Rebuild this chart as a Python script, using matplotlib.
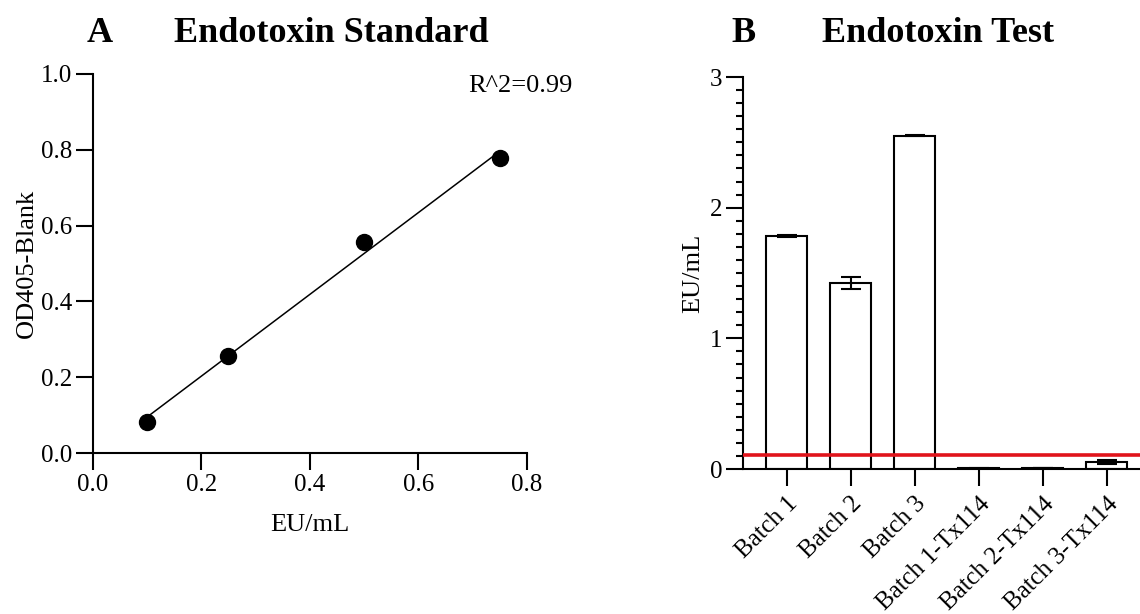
import numpy as np
import matplotlib
matplotlib.use('Agg')
import matplotlib.pyplot as plt
from matplotlib.ticker import MultipleLocator, FormatStrFormatter


# standard curve: endotoxin concentration vs blank-corrected OD405
STD_CONC = [0.10, 0.25, 0.50, 0.75]
STD_OD = [0.083, 0.257, 0.556, 0.778]
R2_TEXT = 'R^2=0.99'

# sample test results
SAMPLES = ['Batch 1', 'Batch 2', 'Batch 3',
           'Batch 1-Tx114', 'Batch 2-Tx114', 'Batch 3-Tx114']
SAMPLE_EU = [1.785, 1.425, 2.55, 0.005, 0.006, 0.052]
SAMPLE_ERR = [0.008, 0.047, 0.003, 0.002, 0.002, 0.015]
LIMIT_EU = 0.107

plt.rcParams['font.family'] = ['Liberation Serif', 'DejaVu Serif']
plt.rcParams['axes.linewidth'] = 1.5

W, H = 1140, 614
fig = plt.figure(figsize=(W / 100, H / 100), dpi=100)


def px_axes(left, top, right, bottom):
    return fig.add_axes([left / W, 1 - bottom / H,
                         (right - left) / W, (bottom - top) / H])


# ---- A: standard curve
axA = px_axes(92.7, 74, 527, 453)
axA.plot(STD_CONC, STD_OD, 'o', color='black', markersize=11.5, zorder=3)
slope, icpt = np.polyfit(STD_CONC, STD_OD, 1)
fit_x = np.array([min(STD_CONC), max(STD_CONC)])
axA.plot(fit_x, slope * fit_x + icpt, color='black', lw=1.1)
axA.set_xlim(0, 0.8)
axA.set_ylim(0, 1.0)
axA.set_xticks(np.arange(0, 0.81, 0.2))
axA.set_yticks(np.arange(0, 1.01, 0.2))
axA.xaxis.set_major_formatter(FormatStrFormatter('%.1f'))
axA.yaxis.set_major_formatter(FormatStrFormatter('%.1f'))
axA.set_xlabel('EU/mL', fontsize=19)
axA.set_ylabel('OD405-Blank', fontsize=19)
axA.yaxis.set_label_coords(-0.126, 0.5)
axA.xaxis.set_label_coords(0.5, -0.162)
axA.text(573, H - 86, R2_TEXT, transform=None, fontsize=19,
         ha='right', va='center')

# ---- B: sample bars
axB = px_axes(743, 77, 1140, 469)
xpos = np.arange(len(SAMPLES))
axB.bar(xpos, SAMPLE_EU, width=0.64, color='white', edgecolor='black',
        linewidth=1.5, zorder=2)
axB.errorbar(xpos, SAMPLE_EU, yerr=SAMPLE_ERR, fmt='none', ecolor='black',
             elinewidth=1.5, capsize=7.5, capthick=1.5, zorder=3)
axB.axhline(LIMIT_EU, color='#e0141b', lw=2.6, zorder=4)
axB.set_xlim(-0.68, 5.52)
axB.set_ylim(0, 3)
axB.set_yticks([0, 1, 2, 3])
axB.yaxis.set_minor_locator(MultipleLocator(0.1))
axB.set_xticks(xpos)
axB.set_xticklabels(SAMPLES, rotation=45, ha='right', va='top',
                    rotation_mode='anchor')
axB.set_ylabel('EU/mL', fontsize=19)
axB.yaxis.set_label_coords(-0.098, 0.5)

for ax in (axA, axB):
    for side in ('top', 'right'):
        ax.spines[side].set_visible(False)
    ax.tick_params(which='major', length=12, width=1.5, labelsize=18,
                   direction='out', pad=3)
    ax.tick_params(which='minor', length=5, width=1.5, direction='out')
    ax.tick_params(axis='x', which='minor', length=0)
axB.tick_params(axis='x', labelsize=18, pad=5)

# panel letters and titles
for x, s in [(100, 'A'), (331, 'Endotoxin Standard'),
             (744, 'B'), (938, 'Endotoxin Test')]:
    fig.text(x, H - 33, s, transform=None, fontsize=26, fontweight='bold',
             ha='center', va='center')

fig.savefig('out.png', dpi=100, facecolor='white')
